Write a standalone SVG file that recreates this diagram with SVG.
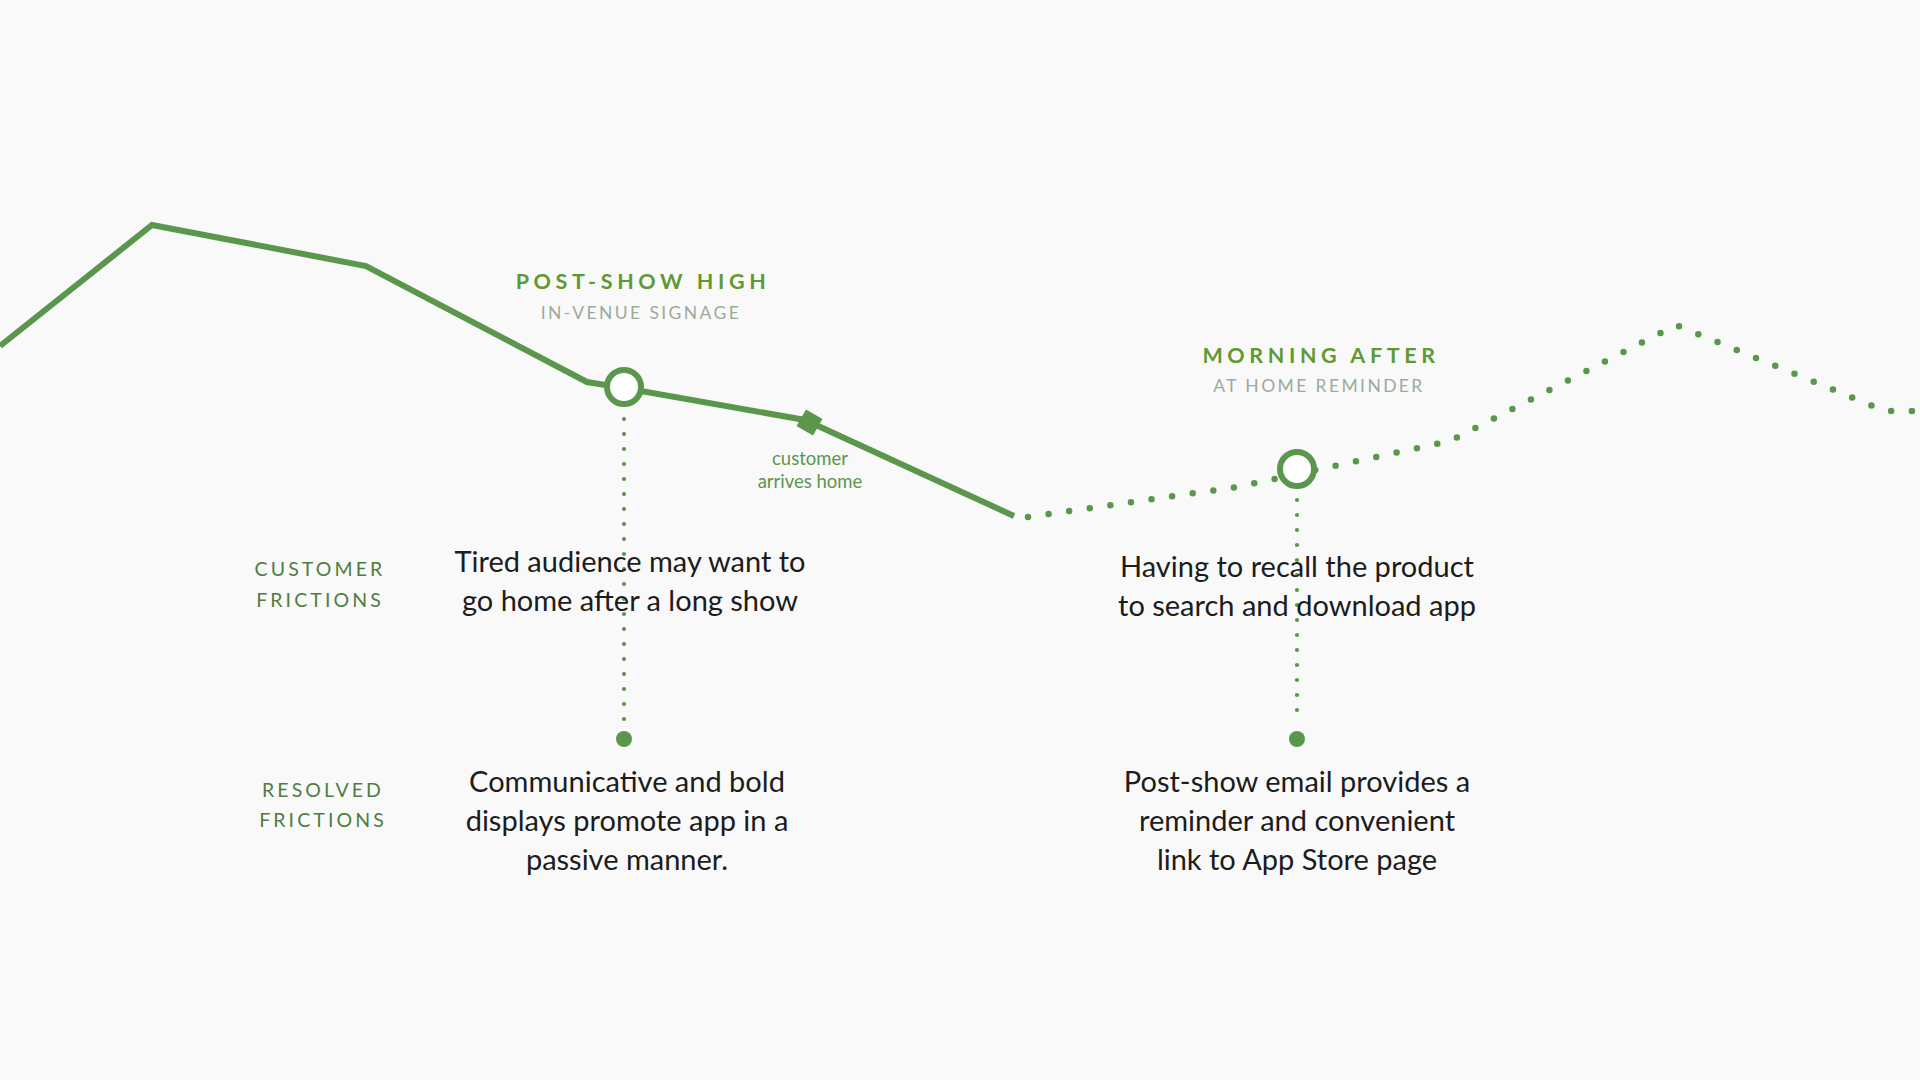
<svg xmlns="http://www.w3.org/2000/svg" width="1920" height="1080" viewBox="0 0 1920 1080">
<style>
.bg{fill:#f9f9f9}
.solid{fill:none;stroke:#5b964d;stroke-width:6;stroke-linejoin:miter}
.dotted{fill:none;stroke:#5b964d;stroke-width:6.5;stroke-linecap:round;stroke-dasharray:0 20.8}
.vdot{fill:none;stroke:#5b964d;stroke-width:4.2;stroke-linecap:round;stroke-dasharray:0 15}
.ring{fill:#ffffff;stroke:#5b964d;stroke-width:6}
.end{fill:#5b964d}
.title{font-family:Lato,"Open Sans",sans-serif;font-weight:700;font-size:21.5px;letter-spacing:4.6px;fill:#5e9a32;text-anchor:middle}
.sub{font-family:Lato,"Open Sans",sans-serif;font-size:17.5px;letter-spacing:2.4px;fill:#9bab9b;text-anchor:middle}
.note{font-family:Lato,"Open Sans",sans-serif;font-size:18.5px;fill:#5b964d;text-anchor:middle}
.side{font-family:Lato,"Open Sans",sans-serif;font-size:19.5px;letter-spacing:3.1px;fill:#4e7d40;text-anchor:middle}
.body{font-family:Lato,"Open Sans",sans-serif;font-size:29px;fill:#1c1c1c;text-anchor:middle}
</style>
<rect class="bg" x="0" y="0" width="1920" height="1080"/>
<g id="connectors">
<polyline class="solid" points="0,346 152,225 366,266 587,382 624,388 805,420 1014,516"/>
<polyline class="dotted" points="1028,517 1237,487 1450,441 1676,325 1885,411 1930,411"/>
<line class="vdot" x1="624" y1="419" x2="624" y2="720"/>
<line class="vdot" x1="1297" y1="500" x2="1297" y2="720"/>
</g>
<g id="node-post-show-high">
<circle class="ring" cx="624" cy="387" r="17"/>
<text class="title" x="643" y="289">POST-SHOW HIGH</text>
<text class="sub" x="641" y="319">IN-VENUE SIGNAGE</text>
</g>
<g id="node-arrives-home">
<rect class="end" x="800" y="413" width="19" height="19" transform="rotate(30 809.5 422.5)"/>
<text class="note" x="810" y="465">customer</text>
<text class="note" x="810" y="488">arrives home</text>
</g>
<g id="node-morning-after">
<circle class="ring" cx="1297" cy="469" r="17"/>
<text class="title" x="1321" y="363">MORNING AFTER</text>
<text class="sub" x="1319" y="392">AT HOME REMINDER</text>
</g>
<g id="labels">
<text class="side" x="320" y="576">CUSTOMER</text>
<text class="side" x="320" y="607">FRICTIONS</text>
<text class="side" x="323" y="797">RESOLVED</text>
<text class="side" x="323" y="827">FRICTIONS</text>
</g>
<g id="node-friction-1">
<text class="body" x="630" y="572">Tired audience may want to</text>
<text class="body" x="630" y="611">go home after a long show</text>
</g>
<g id="node-resolved-1">
<circle class="end" cx="624" cy="739" r="8"/>
<text class="body" x="627" y="792">Communicative and bold</text>
<text class="body" x="627" y="831">displays promote app in a</text>
<text class="body" x="627" y="870">passive manner.</text>
</g>
<g id="node-friction-2">
<text class="body" x="1297" y="577">Having to recall the product</text>
<text class="body" x="1297" y="616">to search and download app</text>
</g>
<g id="node-resolved-2">
<circle class="end" cx="1297" cy="739" r="8"/>
<text class="body" x="1297" y="792">Post-show email provides a</text>
<text class="body" x="1297" y="831">reminder and convenient</text>
<text class="body" x="1297" y="870">link to App Store page</text>
</g>
</svg>
